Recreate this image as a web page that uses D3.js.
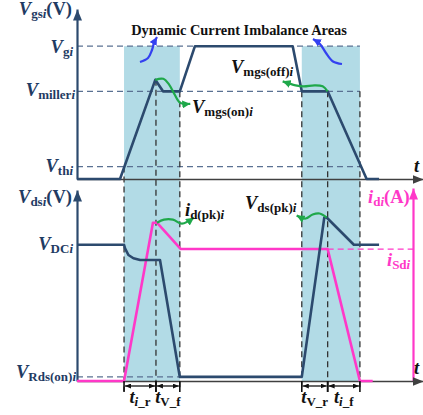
<!DOCTYPE html>
<html><head><meta charset="utf-8">
<script src="https://cdn.jsdelivr.net/npm/d3@7"></script>
<style>body{margin:0;background:#fff}svg{display:block}</style>
</head><body>
<svg id="chart" width="423" height="415"></svg>
<script>
// ---- waveform data (time in arbitrary units) ----
// gate-source voltage v_gs(t), volts
const gateTime  = [0, 12.8, 23.3, 25.6, 30.6, 35.1, 64.2, 66.9, 74.6, 86.2, 89.9];
const gateValue = [0, 0,    11.2, 9.9,  9.9,  15,   15,   9.9,  9.9,  0,    0];
// drain-source voltage v_ds(t), volts
const vdsTime  = [0,   14,  14.3, 15.3, 16.8, 18.8, 24.7, 30.6, 66.9, 73.6, 74.3, 82.4, 89.9];
const vdsValue = [100, 100, 97.4, 92.5, 90.1, 88.8, 88.8, 3,    3,    120,  120,  100,  100];
// drain current i_d(t), amperes
const idTime  = [0, 14, 22.6, 23.8, 30.9, 74.6, 84.2, 88];
const idValue = [0, 0,  24,   24,   20,   20,   0,    0];

// reference levels
const gateLevelNames  = ["Vg", "Vmiller", "Vth"];
const gateLevelValues = [15, 9.9, 1.4];
const vdcLevel = 100, vRdsOnLevel = 3, iSLevel = 20, gatePeak = 11.2;

// switching instants and the intervals between them
const edgeTimes = [14, 23.5, 30.6, 66.9, 74.6, 84.2];
const shadedAreas = [[14, 30.6], [66.9, 84.2]];
const intervalStart = [14, 23.5, 66.9, 74.6];
const intervalEnd   = [23.5, 30.6, 74.6, 84.2];
const intervalSym   = ["i", "V", "V", "i"];
const intervalSuf   = ["_r", "_f", "_r", "_f"];

const FONT = '"Liberation Serif","Times New Roman",serif';
const NAVY = "#2c4a6e", TEXT = "#1f3b63", PINK = "#ff38c8",
      GREEN = "#1fa84a", BLUE = "#3340f0", SHADE = "#b2dbe6", DASH = "#5a7192";

const svg = d3.select("#chart");

// ---- scales ----
const x  = d3.scaleLinear().domain([0, 100]).range([77, 413]);
const yG = d3.scaleLinear().domain([0, 19.2]).range([179, 9]);
const yV = d3.scaleLinear().domain([0, 138]).range([381, 193]);
const yI = d3.scaleLinear().domain([0, 28.5]).range([381, 193]);

// ---- markers ----
const defs = svg.append("defs");
function marker(id, color, w, h) {
  defs.append("marker").attr("id", id).attr("viewBox", `0 0 ${w} ${h}`)
    .attr("refX", w).attr("refY", h / 2).attr("markerWidth", w).attr("markerHeight", h)
    .attr("markerUnits", "userSpaceOnUse").attr("orient", "auto-start-reverse")
    .append("path").attr("d", `M0,0L${w},${h / 2}L0,${h}Z`).attr("fill", color);
}
marker("ag", GREEN, 8, 8);
marker("ab", BLUE, 8, 8);
marker("ak", "#111", 6, 5);
marker("axN", NAVY, 11, 9);
marker("axK", "#404040", 11, 9);
marker("axP", PINK, 11, 9);

// ---- shaded dynamic imbalance areas ----
svg.append("g").selectAll("rect").data(shadedAreas).join("rect")
  .attr("x", d => x(d[0])).attr("width", d => x(d[1]) - x(d[0]))
  .attr("y", yG(gateLevelValues[0])).attr("height", d => yV(0) - yG(gateLevelValues[0]))
  .attr("fill", SHADE);

// ---- dashed reference levels ----
const dashG = svg.append("g").attr("stroke", DASH).attr("stroke-width", 1.3)
  .attr("stroke-dasharray", "6,4").attr("fill", "none");
gateLevelValues.forEach(v => {
  dashG.append("line").attr("x1", x(0)).attr("x2", x(84.2)).attr("y1", yG(v)).attr("y2", yG(v));
});
dashG.append("line").attr("x1", x(0)).attr("x2", x(30.6))
  .attr("y1", yV(vRdsOnLevel)).attr("y2", yV(vRdsOnLevel));
svg.append("line").attr("x1", x(74.6)).attr("x2", x(100))
  .attr("y1", yI(iSLevel)).attr("y2", yI(iSLevel))
  .attr("stroke", PINK).attr("stroke-width", 1.3).attr("stroke-dasharray", "6,4");

// vertical dashed markers at each switching instant
const edgeTop = [gateLevelValues[2], gatePeak, 9.9, 9.9, 9.9, 9.9];
svg.append("g").selectAll("line").data(edgeTimes).join("line")
  .attr("x1", d => x(d)).attr("x2", d => x(d))
  .attr("y1", (d, i) => yG(edgeTop[i])).attr("y2", yV(0) + 10)
  .attr("stroke", "#333").attr("stroke-width", 1.3).attr("stroke-dasharray", "6,4");

// ---- axes (domain lines only, extended to the arrow tips) ----
function axisLine(gen, tx, ty, color, w) {
  const g = svg.append("g").attr("transform", `translate(${tx},${ty})`)
    .call(gen.tickValues([]).tickSizeOuter(0));
  return g.select(".domain").attr("stroke", color).attr("stroke-width", w);
}
const extend = (s, px) => s.copy().domain([s.domain()[0], s.invert(px)]).range([s.range()[0], px]);
axisLine(d3.axisLeft(yG), x(0), 0, NAVY, 2.2).attr("marker-end", "url(#axN)");
axisLine(d3.axisLeft(extend(yV, 190)), x(0), 0, NAVY, 2.2).attr("marker-end", "url(#axN)");
axisLine(d3.axisRight(extend(yI, 188)), x(100), 0, PINK, 2.2).attr("marker-end", "url(#axP)");
const xr = extend(x, 423);
axisLine(d3.axisBottom(xr), 0, yG(0), "#404040", 1.7).attr("marker-end", "url(#axK)");
axisLine(d3.axisBottom(xr), 0, yV(0), "#404040", 1.7).attr("marker-end", "url(#axK)");

// ---- waveforms ----
const zip = (t, v) => t.map((d, i) => [d, v[i]]);
svg.append("path").datum(zip(idTime, idValue))
  .attr("d", d3.line().x(d => x(d[0])).y(d => yI(d[1])))
  .attr("fill", "none").attr("stroke", PINK).attr("stroke-width", 2.6).attr("stroke-linejoin", "round");
svg.append("path").datum(zip(vdsTime, vdsValue))
  .attr("d", d3.line().x(d => x(d[0])).y(d => yV(d[1])))
  .attr("fill", "none").attr("stroke", NAVY).attr("stroke-width", 2.6).attr("stroke-linejoin", "round");
svg.append("path").datum(zip(gateTime, gateValue))
  .attr("d", d3.line().x(d => x(d[0])).y(d => yG(d[1])))
  .attr("fill", "none").attr("stroke", NAVY).attr("stroke-width", 2.6).attr("stroke-linejoin", "round");

// ---- interval brackets ----
const br = svg.append("g").attr("stroke", "#111").attr("stroke-width", 1.3);
intervalStart.forEach((s, i) => {
  const e = intervalEnd[i];
  br.append("line").attr("x1", x(s) + 1).attr("x2", x(e) - 1).attr("y1", yV(0) + 5).attr("y2", yV(0) + 5)
    .attr("marker-start", "url(#ak)").attr("marker-end", "url(#ak)");
  [s, e].forEach(t => br.append("line").attr("x1", x(t)).attr("x2", x(t))
    .attr("y1", yV(0)).attr("y2", yV(0) + 11).attr("stroke-width", 1.6));
});

// ---- annotation arrows ----
const curve = d3.line().curve(d3.curveCatmullRom.alpha(0.5));
function note(pts, color, mk) {
  svg.append("path").attr("d", curve(pts)).attr("fill", "none")
    .attr("stroke", color).attr("stroke-width", 2.2).attr("marker-end", `url(#${mk})`);
}
const gx = x(23.3), gy = yG(gatePeak);
note([[gx, gy], [gx + 8, gy - 1], [gx + 14, gy + 5], [gx + 19, gy + 14], [gx + 25, gy + 23], [gx + 35, gy + 24]], GREEN, "ag");
const mx = x(74.6), my = yG(9.9);
note([[mx, my], [mx - 5, my - 5], [mx - 13, my - 6], [mx - 24, my - 5], [mx - 32, my - 6], [mx - 45, my - 10]], GREEN, "ag");
const px = x(23.8), py = yI(24);
note([[px, py], [px + 7, py - 3], [px + 16, py - 3], [px + 25, py + 1], [px + 37, py - 5]], GREEN, "ag");
const vx = x(74.3), vy = yV(120);
note([[vx, vy], [vx - 7, vy - 4], [vx - 14, vy - 3], [vx - 21, vy + 1], [vx - 30, vy - 2]], GREEN, "ag");
note([[140, 62], [148, 58], [152, 50], [154, 43], [157, 37]], BLUE, "ab");
note([[342, 64], [333, 61.5], [326, 53], [320, 44], [313, 39]], BLUE, "ab");

// ---- text ----
const BIG = 18.5, SUB = 13;
function rich(xp, yp, parts, anchor, color) {
  const t = svg.append("text").attr("x", xp).attr("y", yp).attr("text-anchor", anchor)
    .attr("fill", color).attr("font-family", FONT).attr("font-weight", "bold");
  let shift = 0;
  parts.forEach(([s, kind]) => {
    const sub = kind[0] === "s";
    const want = sub ? 3 : 0;
    t.append("tspan").attr("dy", want - shift).attr("font-size", sub ? SUB : BIG)
      .attr("font-style", kind.endsWith("i") ? "italic" : "normal").text(s);
    shift = want;
  });
}
rich(72, 15, [["V", "Bi"], ["gs", "s"], ["i", "si"], ["(V)", "B"]], "end", TEXT);
rich(73, 53, [["V", "Bi"], ["g", "s"], ["i", "si"]], "end", TEXT);
rich(75, 96, [["V", "Bi"], ["miller", "s"], ["i", "si"]], "end", TEXT);
rich(73, 172, [["V", "Bi"], ["th", "s"], ["i", "si"]], "end", TEXT);
rich(72, 203, [["V", "Bi"], ["ds", "s"], ["i", "si"], ["(V)", "B"]], "end", TEXT);
rich(73, 250, [["V", "Bi"], ["DC", "s"], ["i", "si"]], "end", TEXT);
rich(76, 378, [["V", "Bi"], ["Rds(on)", "s"], ["i", "si"]], "end", TEXT);
rich(192, 113, [["V", "Bi"], ["mgs(on)", "s"], ["i", "si"]], "start", "#111");
rich(231, 73, [["V", "Bi"], ["mgs(off)", "s"], ["i", "si"]], "start", "#111");
rich(185, 216, [["i", "Bi"], ["d(pk)", "s"], ["i", "si"]], "start", "#111");
rich(245, 209, [["V", "Bi"], ["ds(pk)", "s"], ["i", "si"]], "start", "#111");
rich(368, 203, [["i", "Bi"], ["d", "s"], ["i", "si"], ["(A)", "B"]], "start", PINK);
rich(387, 266, [["i", "Bi"], ["Sd", "s"], ["i", "si"]], "start", PINK);
rich(414, 172, [["t", "Bi"]], "start", "#111");
rich(414, 374, [["t", "Bi"]], "start", "#111");
intervalStart.forEach((s, i) => {
  const parts = [["t", "Bi"], [intervalSym[i], intervalSym[i] === "i" ? "si" : "s"], [intervalSuf[i], "s"]];
  rich((x(s) + x(intervalEnd[i])) / 2, 403, parts, "middle", "#111");
});
svg.append("text").attr("x", 239).attr("y", 35).attr("text-anchor", "middle")
  .attr("font-family", FONT).attr("font-weight", "bold").attr("font-size", 14.4)
  .attr("fill", "#111").text("Dynamic Current Imbalance Areas");
</script>
</body></html>
